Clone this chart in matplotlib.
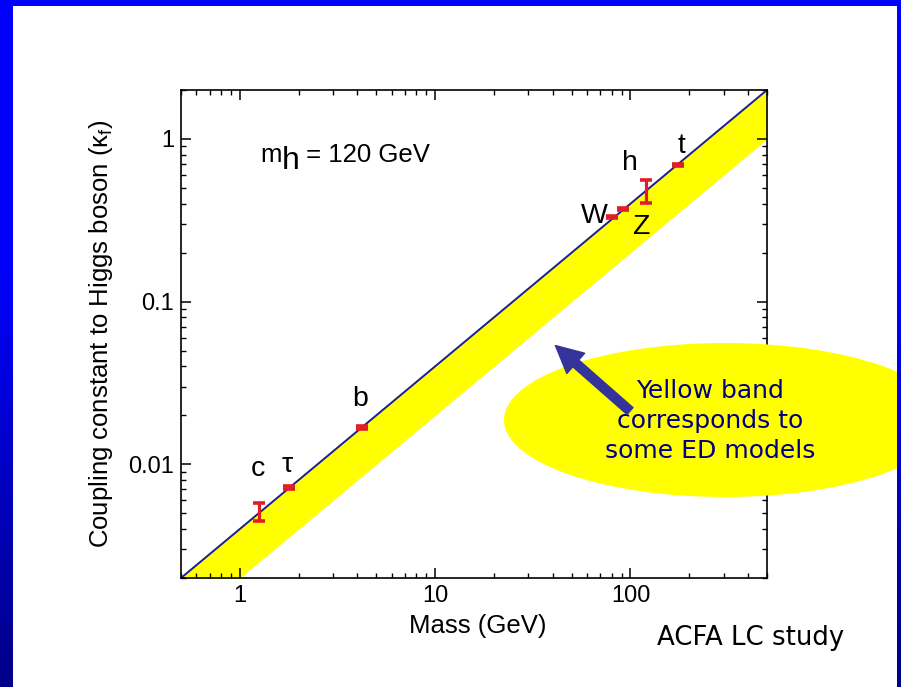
import numpy as np
import matplotlib
matplotlib.use("Agg")
import matplotlib.pyplot as plt
from matplotlib.patches import Ellipse, Rectangle
from matplotlib.ticker import FixedLocator, FixedFormatter, LogLocator, NullFormatter

plt.rcParams["font.family"] = ["Liberation Sans", "DejaVu Sans"]
plt.rcParams["mathtext.fontset"] = "custom"
plt.rcParams["mathtext.rm"] = "Liberation Sans"
plt.rcParams["mathtext.it"] = "Liberation Sans:italic"

# Particles, masses (GeV) and coupling constants to the Higgs boson
particles = ["c", "\u03c4", "b", "W", "Z", "h", "t"]
mass = [1.25, 1.78, 4.2, 80.4, 91.2, 120.0, 175.0]
kappa = [0.0051, 0.0072, 0.0169, 0.332, 0.370, 0.475, 0.69]
kappa_err_lo = [0.0006, 0.0002, 0.0004, 0.004, 0.004, 0.07, 0.012]
kappa_err_hi = [0.0007, 0.0002, 0.0004, 0.004, 0.004, 0.085, 0.012]

# Standard Model line and the extra-dimension band below it
line_mass = [0.5, 500.0]
line_kappa = [0.002, 2.0]
band_low_kappa = [0.001, 1.0]

x_ticks = [1, 10, 100]
x_tick_labels = ["1", "10", "100"]
y_ticks = [0.01, 0.1, 1]
y_tick_labels = ["0.01", "0.1", "1"]

# label offsets (points) relative to each measurement
label_offsets = [(-0.7, 26), (-0.7, 11.5), (-0.7, 15), (-12.6, -4.3),
                 (13, -17.6), (-11.5, 15.6), (2.9, 9)]

W, H = 901, 687
fig = plt.figure(figsize=(W / 100, H / 100), dpi=100)
fig.patch.set_facecolor("white")

ax = fig.add_axes([181 / W, 1 - 578 / H, (767 - 181) / W, (578 - 90) / H])
ax.set_xscale("log")
ax.set_yscale("log")

ax.fill_between(line_mass, band_low_kappa, line_kappa, color="#ffff00",
                linewidth=0, zorder=1)
ax.plot(line_mass, line_kappa, color="#1c1c8e", lw=1.4, zorder=2)
ax.errorbar(mass, kappa, yerr=[kappa_err_lo, kappa_err_hi], fmt="none",
            ecolor="#e01e26", elinewidth=2.3, capsize=4.3, capthick=2.6,
            zorder=3)
for name, m, k, off in zip(particles, mass, kappa, label_offsets):
    ax.annotate(name, xy=(m, k), xytext=off, textcoords="offset points",
                ha="center", va="baseline", fontsize=20.5, color="black")

ax.set_xlim(line_mass[0], line_mass[1])
ax.set_ylim(line_kappa[0], line_kappa[1])

ax.xaxis.set_major_locator(FixedLocator(x_ticks))
ax.xaxis.set_major_formatter(FixedFormatter(x_tick_labels))
ax.xaxis.set_minor_locator(LogLocator(base=10, subs=np.arange(2, 10)))
ax.xaxis.set_minor_formatter(NullFormatter())
ax.yaxis.set_major_locator(FixedLocator(y_ticks))
ax.yaxis.set_major_formatter(FixedFormatter(y_tick_labels))
ax.yaxis.set_minor_locator(LogLocator(base=10, subs=np.arange(2, 10)))
ax.yaxis.set_minor_formatter(NullFormatter())

ax.tick_params(which="both", direction="in", top=True, right=True,
               labelsize=17, color="black")
ax.tick_params(which="major", length=7, width=1.1, pad=5)
ax.tick_params(which="minor", length=3.5, width=1.0)
for sp in ax.spines.values():
    sp.set_linewidth(1.2)

ax.set_xlabel("Mass (GeV)", fontsize=18.5)
ax.xaxis.set_label_coords(0.507, -0.074)
ax.set_ylabel("Coupling constant to Higgs boson (\u03ba$_\\mathrm{f}$)",
              fontsize=18.5)
ax.yaxis.set_label_coords(-0.113, 0.5)

# Higgs mass annotation
t1 = ax.text(0.1348, 0.8525, "m", transform=ax.transAxes, fontsize=18.5,
             va="baseline", ha="left")
t2 = ax.annotate("h", xy=(1, 0), xycoords=t1, xytext=(0, -6.5),
                 textcoords="offset points", va="bottom", ha="left",
                 fontsize=23)
ax.annotate(" = 120 GeV", xy=(1, 0), xycoords=(t2, t1), xytext=(0, 0),
            textcoords="offset points", va="bottom", ha="left",
            fontsize=18.5)

fig.text(657 / W, 1 - 645 / H, "ACFA LC study", fontsize=18.7,
         family="DejaVu Sans", ha="left", va="baseline")

# overlay: callout ellipse, arrow and frame
ov = fig.add_axes([0, 0, 1, 1], zorder=5)
ov.patch.set_alpha(0)
ov.axis("off")

ov.add_patch(Ellipse((725, 420), 442, 154, facecolor="#ffff00",
                     edgecolor="none", zorder=1))
ov.text(710, 421, "Yellow band\ncorresponds to\nsome ED models",
        ha="center", va="center", fontsize=18, color="#000080",
        family="DejaVu Sans", linespacing=1.33, zorder=2)
ov.annotate("", xy=(41.3, 0.0537), xycoords=ax.transData,
            xytext=(630, 411), textcoords="data",
            arrowprops=dict(arrowstyle="simple,head_length=1.08,head_width=1.08,tail_width=0.36",
                            mutation_scale=18, color="#333399",
                            shrinkA=0, shrinkB=0), zorder=3)

grad = np.zeros((H, 1, 3))
tpos = np.clip((np.arange(H) - 0.38 * H) / (0.62 * H), 0, 1)
grad[:, 0, 2] = 1 - 0.47 * tpos
ov.imshow(grad, extent=(0, 13, H, 0), aspect="auto", zorder=10)
ov.imshow(grad, extent=(897, W, H, 0), aspect="auto", zorder=10)
ov.add_patch(Rectangle((0, 0), W, 6, facecolor="#0000ff", edgecolor="none",
                       zorder=11))
ov.set_xlim(0, W)
ov.set_ylim(H, 0)

fig.savefig("out.png", dpi=100)
